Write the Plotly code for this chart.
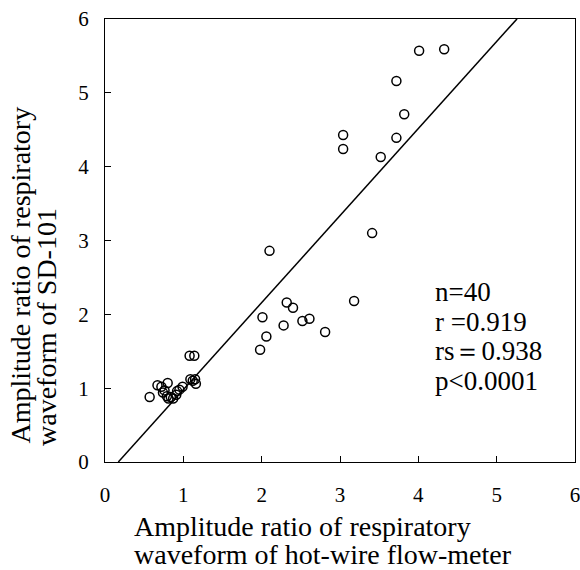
import plotly.graph_objects as go

# Data
hotwire = [4.01, 4.33, 3.72, 3.82, 3.04, 3.04, 3.72, 3.52,
           3.41, 2.10, 3.18, 2.32, 2.40, 2.01, 2.28, 2.52, 2.61, 2.81, 2.06, 1.98,
           1.08, 1.14, 1.09, 1.15, 1.16, 1.12, 0.57, 0.67, 0.72, 0.80,
           0.74, 0.79, 0.81, 0.87, 0.91, 0.92, 0.99, 0.76, 0.84, 0.95]
sd101 = [5.57, 5.59, 5.16, 4.71, 4.43, 4.24, 4.39, 4.13,
         3.10, 2.86, 2.18, 2.16, 2.09, 1.96, 1.85, 1.91, 1.94, 1.76, 1.70, 1.52,
         1.44, 1.44, 1.12, 1.12, 1.06, 1.10, 0.88, 1.04, 1.02, 1.07,
         0.94, 0.89, 0.86, 0.86, 0.91, 0.96, 1.02, 0.97, 0.88, 0.98]

fit_slope = 1.179
fit_intercept = -0.20
fit_x = [0.17, 5.26]
fit_y = [fit_slope * v + fit_intercept for v in fit_x]

stats_lines = ["n=40", "r =0.919", "rs\uff1d0.938", "p<0.0001"]
tick_vals = [0, 1, 2, 3, 4, 5, 6]

SERIF = "Liberation Serif, Times New Roman, serif"

fig = go.Figure()
fig.add_trace(go.Scatter(x=fit_x, y=fit_y, mode="lines",
                         line=dict(color="black", width=1.5),
                         showlegend=False, hoverinfo="skip"))
fig.add_trace(go.Scatter(x=hotwire, y=sd101, mode="markers",
                         marker=dict(symbol="circle-open", size=9,
                                     color="black", line=dict(width=1.5)),
                         showlegend=False))

axis_common = dict(range=[0, 6], tickvals=tick_vals, ticks="inside",
                   ticklen=6, tickcolor="black", showline=True,
                   linecolor="black", linewidth=1, mirror=True,
                   showgrid=False, zeroline=False, automargin=False,
                   ticklabeloverflow="allow",
                   tickfont=dict(family=SERIF, size=21, color="black"))
fig.update_xaxes(**axis_common, ticklabelstandoff=14)
fig.update_yaxes(**axis_common, ticklabelstandoff=11)

# plot area in pixels: left 105, top 19, width 470, height 443
def px_x(p):
    return (p - 105) / 470.0

def px_y(p):
    return (462 - p) / 443.0

annotations = []
tf = dict(family=SERIF, size=28, color="black")
annotations.append(dict(text="Amplitude ratio of respiratory",
                        xref="paper", yref="paper", x=px_x(132), y=px_y(526),
                        xanchor="left", yanchor="middle", showarrow=False, font=tf))
annotations.append(dict(text="waveform of hot-wire flow-meter",
                        xref="paper", yref="paper", x=px_x(132), y=px_y(554),
                        xanchor="left", yanchor="middle", showarrow=False, font=tf))
annotations.append(dict(text="Amplitude ratio of respiratory",
                        xref="paper", yref="paper", x=px_x(20), y=px_y(446),
                        xanchor="center", yanchor="bottom", textangle=-90,
                        showarrow=False, font=tf))
annotations.append(dict(text="waveform of SD-101",
                        xref="paper", yref="paper", x=px_x(46), y=px_y(448),
                        xanchor="center", yanchor="bottom", textangle=-90,
                        showarrow=False, font=tf))
for i, s in enumerate(stats_lines):
    annotations.append(dict(text=s, xref="paper", yref="paper",
                            x=px_x(433), y=px_y(292 + 29.5 * i),
                            xanchor="left", yanchor="middle", showarrow=False,
                            font=dict(family=SERIF, size=27, color="black")))

fig.update_layout(width=580, height=570,
                  margin=dict(l=105, r=5, t=19, b=108),
                  paper_bgcolor="white", plot_bgcolor="white",
                  annotations=annotations)

fig.write_html("out.html")
